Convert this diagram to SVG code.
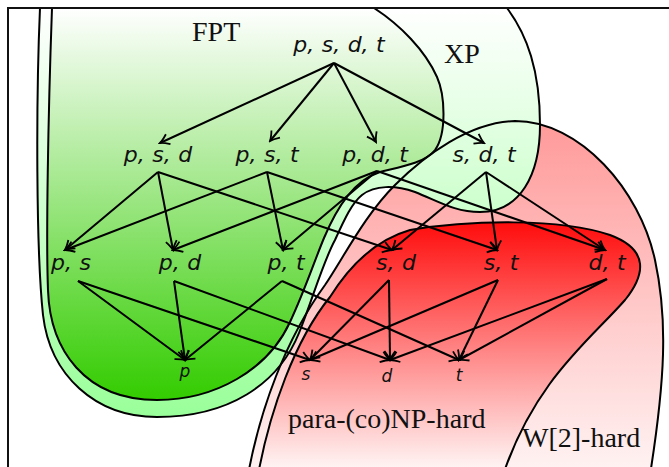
<svg xmlns="http://www.w3.org/2000/svg" width="669" height="467" viewBox="0 0 669 467">
  <style>
    .region { stroke: #000; stroke-width: 2; fill: none; }
    .edge { stroke: #000; stroke-width: 2; fill: none; marker-end: url(#arrow); }
    .lbl { font-family: "DejaVu Sans", sans-serif; font-style: oblique; font-size: 22px; word-spacing: 0.5px; text-anchor: middle; fill: #111; }
    .lbl.small { font-size: 17px; }
    .cls { font-family: "Liberation Serif", serif; font-size: 28px; fill: #111; }
  </style>
  <defs>
    <linearGradient id="gFPT" gradientUnits="userSpaceOnUse" x1="0" y1="8" x2="0" y2="400">
      <stop offset="0" stop-color="#ffffff"/>
      <stop offset="1" stop-color="#33cc00"/>
    </linearGradient>
    <linearGradient id="gXP" gradientUnits="userSpaceOnUse" x1="0" y1="8" x2="0" y2="417">
      <stop offset="0" stop-color="#ffffff"/>
      <stop offset="1" stop-color="#99ff99"/>
    </linearGradient>
    <linearGradient id="gW2" gradientUnits="userSpaceOnUse" x1="0" y1="120" x2="0" y2="520">
      <stop offset="0" stop-color="#ff9999"/>
      <stop offset="1" stop-color="#ffffff"/>
    </linearGradient>
    <linearGradient id="gNP" gradientUnits="userSpaceOnUse" x1="0" y1="220" x2="0" y2="480">
      <stop offset="0" stop-color="#ff0a0a"/>
      <stop offset="1" stop-color="#ffffff"/>
    </linearGradient>
    <clipPath id="frameClip">
      <rect x="8" y="8" width="700" height="500"/>
    </clipPath>
    <marker id="arrow" viewBox="-11 -7 13 14" markerWidth="13" markerHeight="14" refX="0" refY="0" orient="auto" markerUnits="userSpaceOnUse">
      <path d="M-9,-5.5 Q-3.5,-1.3 0,0 Q-3.5,1.3 -9,5.5" fill="none" stroke="#000" stroke-width="1.8"/>
    </marker>
    <path id="pW2" d="M248,475 C260,410 285,340 325,285 C345,255 365,215 395,185 C425,155 470,122 515,121 C580,121 640,190 655,260 C668,320 665,380 650,475 Z"/>
    <path id="pNP" d="M258,475 C270,410 295,340 330,297 C350,265 375,240 410,230 C470,220 560,218 610,235 C650,250 645,275 625,300 C590,340 535,380 503,475 Z"/>
    <path id="pXP" d="M40,8 C36,100 36,250 43,315 C50,375 95,417 157,417 C228,417 278,385 299,333 C313,298 323,262 335,240 C345,218 352,203 362,195 C375,185 395,185 415,192 C440,202 455,212 480,212 C520,212 540,175 540,125 C540,70 527,35 507,8 Z"/>
    <path id="pFPT" d="M52,8 C48,120 46,240 48,290 C50,350 85,400 157,400 C215,400 268,370 290,322 C305,290 314,262 324,238 C338,205 355,180 380,172 C400,167 425,163 435,150 C447,133 445,95 437,77 C425,50 400,25 374,8 Z"/>
  </defs>

  <rect width="669" height="467" fill="#fff"/>

  <!-- complexity classes: fills first, outlines on top -->
  <g id="classes" clip-path="url(#frameClip)">
    <use href="#pW2" fill="url(#gW2)"/>
    <use href="#pNP" fill="url(#gNP)"/>
    <use href="#pXP" fill="url(#gXP)"/>
    <use href="#pFPT" fill="url(#gFPT)"/>
    <use href="#pW2" class="region"/>
    <use href="#pNP" class="region"/>
    <use href="#pXP" class="region"/>
    <use href="#pFPT" class="region"/>
  </g>

  <rect x="8" y="8" width="700" height="500" fill="none" stroke="#111" stroke-width="2"/>

  <g id="class-labels">
    <text class="cls" x="192" y="41">FPT</text>
    <text class="cls" x="444" y="63">XP</text>
    <text class="cls" x="288" y="428">para-(co)NP-hard</text>
    <text class="cls" x="522" y="447">W[2]-hard</text>
  </g>

  <!-- subset edges -->
  <g id="connectors">
    <path class="edge" d="M334,63 L160,143"/>
    <path class="edge" d="M334,63 L270,141"/>
    <path class="edge" d="M334,63 L376,142"/>
    <path class="edge" d="M334,63 L484,143"/>

    <path class="edge" d="M158,172 L65,250"/>
    <path class="edge" d="M158,172 L173,250"/>
    <path class="edge" d="M158,172 L392,250"/>
    <path class="edge" d="M267,172 L65,250"/>
    <path class="edge" d="M267,172 L283,250"/>
    <path class="edge" d="M267,172 L497,250"/>
    <path class="edge" d="M377,171 L173,250"/>
    <path class="edge" d="M377,171 L283,250"/>
    <path class="edge" d="M377,171 L605,250"/>
    <path class="edge" d="M486,172 L392,250"/>
    <path class="edge" d="M486,172 L497,250"/>
    <path class="edge" d="M486,172 L605,250"/>

    <path class="edge" d="M78,281 L185,360"/>
    <path class="edge" d="M78,281 L310,360"/>
    <path class="edge" d="M174,281 L185,360"/>
    <path class="edge" d="M174,281 L390,360"/>
    <path class="edge" d="M282,281 L185,360"/>
    <path class="edge" d="M282,281 L459,360"/>
    <path class="edge" d="M389,280 L310,360"/>
    <path class="edge" d="M389,280 L390,360"/>
    <path class="edge" d="M498,280 L310,360"/>
    <path class="edge" d="M498,280 L459,360"/>
    <path class="edge" d="M607,279 L390,360"/>
    <path class="edge" d="M607,279 L459,360"/>
  </g>

  <g id="n-psdt"><text class="lbl" x="339" y="52">p, s, d, t</text></g>
  <g id="n-psd"><text class="lbl" x="158" y="162">p, s, d</text></g>
  <g id="n-pst"><text class="lbl" x="267" y="162">p, s, t</text></g>
  <g id="n-pdt"><text class="lbl" x="375" y="162">p, d, t</text></g>
  <g id="n-sdt"><text class="lbl" x="484" y="162">s, d, t</text></g>
  <g id="n-ps"><text class="lbl" x="71" y="270">p, s</text></g>
  <g id="n-pd"><text class="lbl" x="180" y="270">p, d</text></g>
  <g id="n-pt"><text class="lbl" x="286" y="270">p, t</text></g>
  <g id="n-sd"><text class="lbl" x="396" y="270">s, d</text></g>
  <g id="n-st"><text class="lbl" x="501" y="270">s, t</text></g>
  <g id="n-dt"><text class="lbl" x="607" y="270">d, t</text></g>
  <g id="n-p"><text class="lbl small" x="185" y="377">p</text></g>
  <g id="n-s"><text class="lbl small" x="306" y="380">s</text></g>
  <g id="n-d"><text class="lbl small" x="387" y="382">d</text></g>
  <g id="n-t"><text class="lbl small" x="459" y="381">t</text></g>
</svg>
